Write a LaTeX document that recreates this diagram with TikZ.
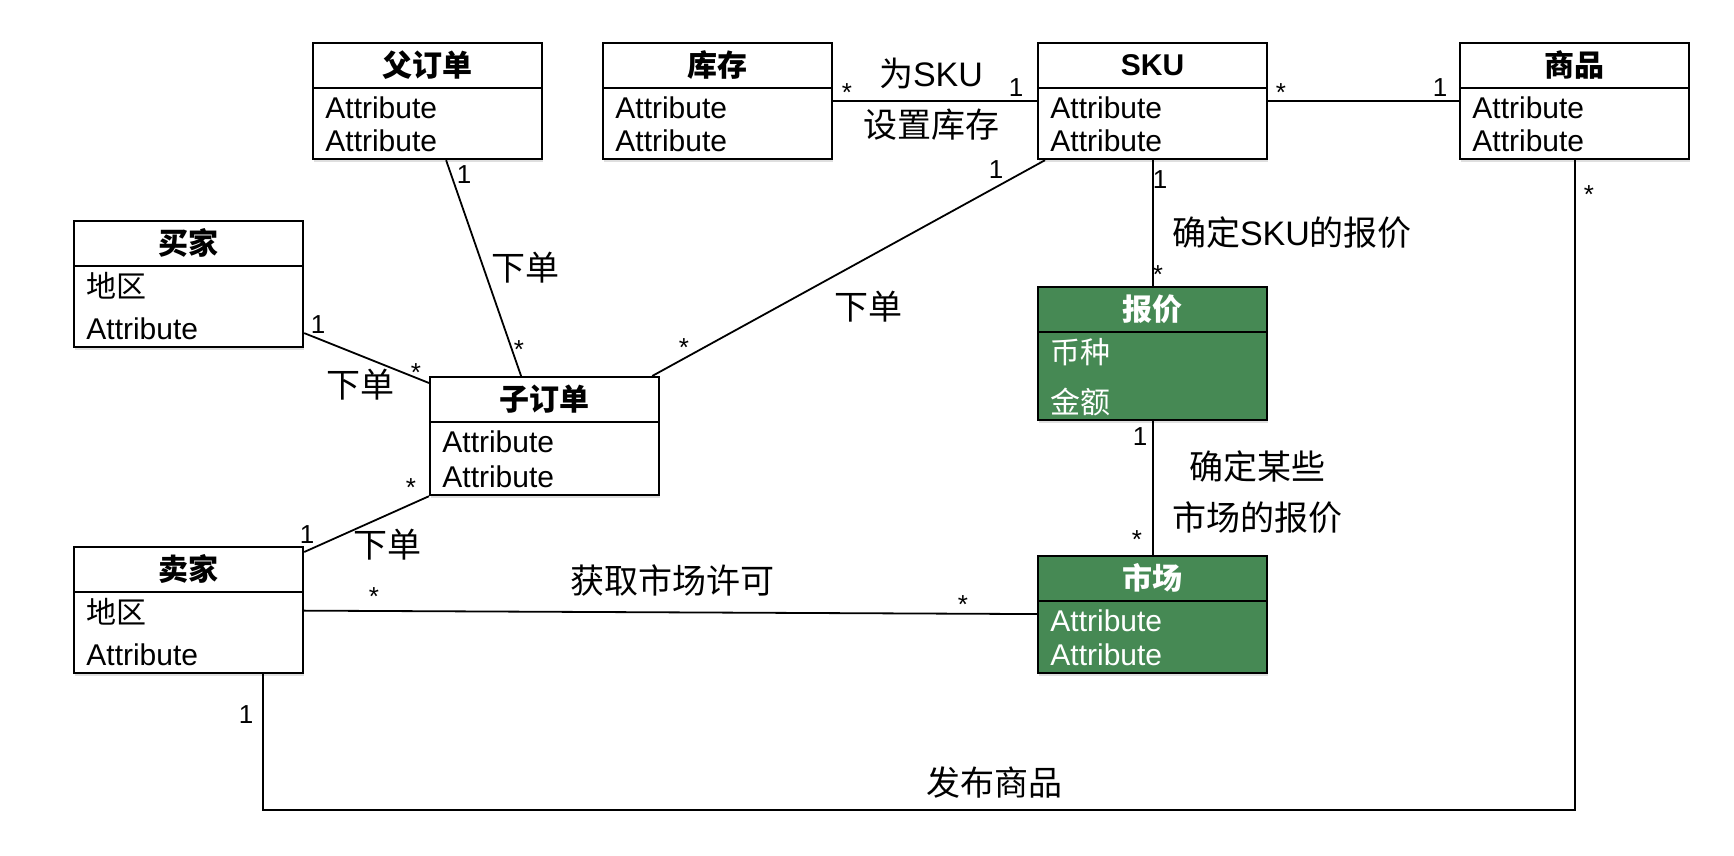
\documentclass[tikz,border=0pt]{standalone}
\usepackage{fontspec}
\setmainfont{Liberation Sans}
\newfontfamily\cjk{Noto Sans CJK SC}
\usetikzlibrary{shadows}
\definecolor{qgreen}{RGB}{70,137,84}

\begin{document}
\begin{tikzpicture}[x=0.5pt, y=-0.5pt,
    cls/.style={draw, line width=1.1pt, inner sep=0pt, minimum width=114.5pt, anchor=north west,
      drop shadow={opacity=0.25, shadow xshift=0.6pt, shadow yshift=-1.2pt}},
    ttl/.style={font=\fontsize{15}{18}\selectfont\bfseries},
    row/.style={font=\fontsize{15}{18}\selectfont, anchor=west, inner sep=0pt},
    lbl/.style={font=\fontsize{17}{20}\selectfont},
    mult/.style={font=\fontsize{13}{15}\selectfont, inner sep=0pt},
    assoc/.style={line width=0.9pt}]
  \fill[white] (0,0) rectangle (1734,856);
  \useasboundingbox (0,0) rectangle (1734,856);

  % classes: name/x/y/height/title/row 1/row 2/fill/text
  \foreach \nm/\x/\y/\h/\ttl/\ra/\rb/\fc/\tc in {
      parent/312/42/58pt/{\cjk 父订单}/Attribute/Attribute/white/black,
      stock/602/42/58pt/{\cjk 库存}/Attribute/Attribute/white/black,
      sku/1037/42/58pt/SKU/Attribute/Attribute/white/black,
      goods/1459/42/58pt/{\cjk 商品}/Attribute/Attribute/white/black,
      buyer/73/220/63pt/{\cjk 买家}/{\cjk 地区}/Attribute/white/black,
      child/429/376/59pt/{\cjk 子订单}/Attribute/Attribute/white/black,
      seller/73/546/63pt/{\cjk 卖家}/{\cjk 地区}/Attribute/white/black,
      quote/1037/286/66.5pt/{\cjk 报价}/{\cjk 币种}/{\cjk 金额}/qgreen/white,
      market/1037/555/58.5pt/{\cjk 市场}/Attribute/Attribute/qgreen/white}{
    \node[cls, fill=\fc, minimum height=\h] (\nm) at (\x,\y) {};
    \draw[line width=1.1pt] (\nm.north west) ++(0,46) -- ++(229,0);
    \node[ttl, text=\tc] (\nm-t) at ([yshift=-11.5pt]\nm.north) {\ttl};
    \node[row, text=\tc] (\nm-a) at ([xshift=6.5pt, yshift=-33pt]\nm.north west) {\ra};
    \node[row, text=\tc] (\nm-b) at ([xshift=6.5pt, yshift=9.5pt]\nm.south west) {\rb};
  }

  % associations
  \draw[assoc] (stock) -- (sku);
  \draw[assoc] (sku) -- (goods);
  \draw[assoc] ([xshift=9.25pt]parent.south) -- ([xshift=-11.75pt]child.north);
  \draw[assoc] ([xshift=4pt]sku.south west) -- ([xshift=-4pt]child.north east);
  \draw[assoc] ([yshift=-24.5pt]buyer.east) -- ([yshift=-3.5pt]child.north west);
  \draw[assoc] ([yshift=-3pt]seller.north east) -- (child.south west);
  \draw[assoc] (seller) -- (market);
  \draw[assoc] (sku) -- (quote);
  \draw[assoc] (quote) -- (market);
  \coordinate (low) at (0,810);
  \draw[assoc] ([xshift=37.25pt]seller.south) |- (low -| goods.south) -- (goods.south);

  % association names
  \node[lbl] (l-set1) at (931,73) {{\cjk 为}SKU};
  \node[lbl] (l-set2) at (931,125) {\cjk 设置库存};
  \node[lbl] (l-po) at (525,268) {\cjk 下单};
  \node[lbl] (l-sku) at (868,307) {\cjk 下单};
  \node[lbl] (l-buy) at (360,385) {\cjk 下单};
  \node[lbl] (l-sell) at (387,545) {\cjk 下单};
  \node[lbl] (l-price) at (1292,233) {{\cjk 确定}SKU{\cjk 的报价}};
  \node[lbl] (l-mk1) at (1257,467) {\cjk 确定某些};
  \node[lbl] (l-mk2) at (1257,518) {\cjk 市场的报价};
  \node[lbl] (l-lic) at (672,580) {\cjk 获取市场许可};
  \node[lbl] (l-pub) at (994,783) {\cjk 发布商品};

  % multiplicities
  \foreach \i/\px/\py/\t in {1/847/93/*, 2/1016/88/1, 3/1281/93/*, 4/1440/88/1,
      5/464/175/1, 6/519/350/*, 7/996/170/1, 8/684/348/*, 9/318/325/1, 10/416/373/*,
      11/411/488/*, 12/307/535/1, 13/374/597/*, 14/963/605/*, 15/1160/180/1,
      16/1158/275/*, 17/1140/437/1, 18/1137/540/*, 19/246/715/1, 20/1589/195/*}{
    \node[mult] (m\i) at (\px,\py) {\t};
  }
\end{tikzpicture}
\end{document}
